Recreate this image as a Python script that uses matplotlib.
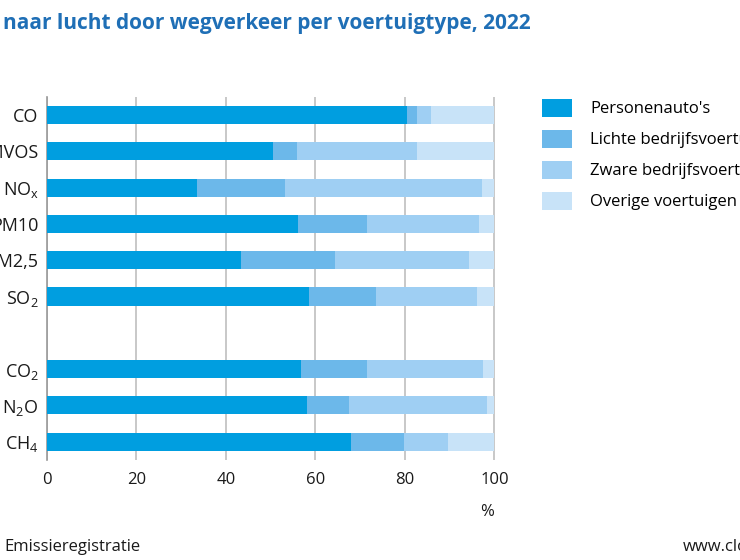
import matplotlib.pyplot as plt
import numpy as np

plt.rcParams['font.family'] = ['Open Sans', 'DejaVu Sans']

# Data (aandeel in %, per voertuigtype)
stoffen = ['CO', 'NMVOS', r'NO$_\mathregular{x}$', 'PM10', 'PM2,5', r'SO$_\mathregular{2}$',
           r'CO$_\mathregular{2}$', r'N$_\mathregular{2}$O', r'CH$_\mathregular{4}$']
personenautos = [80.4, 50.6, 33.5, 56.1, 43.4, 58.5, 56.8, 58.0, 68.0]
lichte_bedrijf = [2.3, 5.2, 19.7, 15.5, 20.9, 15.1, 14.7, 9.5, 11.8]
zware_bedrijf = [3.2, 26.8, 44.1, 24.9, 29.9, 22.5, 25.9, 30.8, 9.8]
overige = [14.1, 17.4, 2.7, 3.5, 5.8, 3.9, 2.6, 1.7, 10.4]

series = ["Personenauto's", 'Lichte bedrijfsvoertuigen',
          'Zware bedrijfsvoertuigen', 'Overige voertuigen']
colors = ['#009ee0', '#6cb8ea', '#9fcff3', '#c8e3f8']

# positions: 6 air pollutants, one empty slot, 3 greenhouse gases
ypos = [0, 1, 2, 3, 4, 5, 7, 8, 9]

fig = plt.figure(figsize=(7.4, 5.6), dpi=100)
ax = fig.add_axes([0.0635, 0.179, 0.6065, 0.648])

left = np.zeros(len(stoffen))
for vals, col, lab in zip([personenautos, lichte_bedrijf, zware_bedrijf, overige], colors, series):
    ax.barh(ypos, vals, left=left, height=0.5, color=col, label=lab, zorder=3)
    left += np.array(vals)

ax.set_ylim(9.5, -0.5)
ax.set_xlim(0, 100.3)
ax.set_xticks([0, 20, 40, 60, 80, 100])
ax.set_yticks(ypos)
ax.set_yticklabels(stoffen, fontsize=13, color='#1a1a1a')
ax.tick_params(axis='x', length=0, pad=9, labelsize=12, labelcolor='#1a1a1a')
ax.tick_params(axis='y', length=0, pad=6)
ax.grid(axis='x', color='#c8c8c8', linewidth=1.4, zorder=0)
for s in ['top', 'right', 'bottom']:
    ax.spines[s].set_visible(False)
ax.spines['left'].set_color('#999999')
ax.spines['left'].set_linewidth(1.2)

ax.legend(loc='upper left', bbox_to_anchor=(1.102, 0.995), frameon=False,
          fontsize=12, handlelength=1.8, handleheight=1.3, handletextpad=1.1,
          labelspacing=0.74, borderaxespad=0, borderpad=0)

fig.text(0.004, 0.958, 'naar lucht door wegverkeer per voertuigtype, 2022',
         fontsize=15, fontweight='bold', color='#1f6fb6', ha='left', va='center')
fig.text(0.658, 0.085, '%', fontsize=12, color='#1a1a1a', ha='center', va='center')
fig.text(0.006, 0.024, 'Emissieregistratie', fontsize=12, color='#1a1a1a',
         ha='left', va='center')
fig.text(0.923, 0.024, 'www.clo.nl', fontsize=12, color='#1a1a1a',
         ha='left', va='center')

fig.savefig('out.png', dpi=100)
